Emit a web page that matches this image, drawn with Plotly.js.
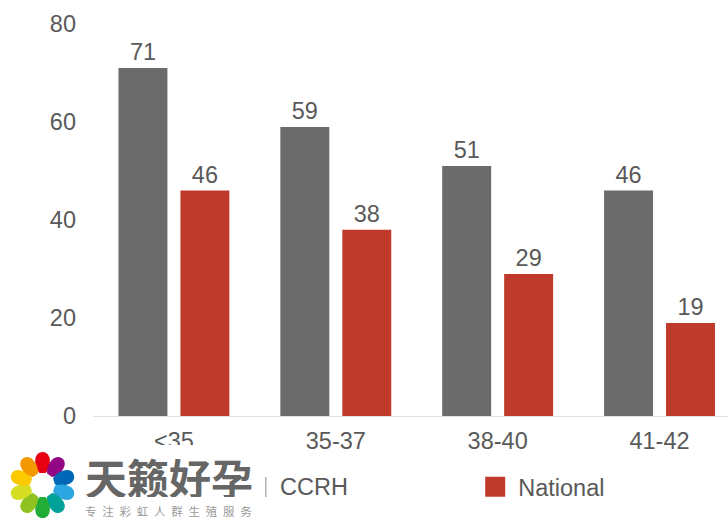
<!DOCTYPE html>
<html>
<head>
<meta charset="utf-8">
<script src="https://cdn.plot.ly/plotly-3.0.1.min.js"></script>
<style>html,body{margin:0;padding:0;background:#fff;overflow:hidden}#c{width:728px;height:530px}</style>
</head>
<body>
<div id="c"></div>
<script>
var categories = ['<35', '35-37', '38-40', '41-42'];
var ccrhValues = [71, 59, 51, 46];
var nationalValues = [46, 38, 29, 19];
var seriesNames = ['CCRH', 'National'];
var yTicks = [0, 20, 40, 60, 80];
var logoTitle = '天籁好孕';
var logoSubtitle = '专\u2002注\u2002彩\u2002虹\u2002人\u2002群\u2002生\u2002殖\u2002服\u2002务';
var petalColors = ['#e60012','#920783','#0068b7','#2ca6e0','#00a29a','#22ac38','#8fc31f','#d6de23','#fcc800','#f39800'];

var W = 728, H = 530, ml = 92.5, mt = 24, mb = 114;
var pw = W - ml, ph = H - mt - mb;
function px(x){ return (x - ml) / pw; }
function py(y){ return 1 - (y - mt) / ph; }
var TXT = '#595959', FF = '"Liberation Sans", Arial, sans-serif', FS = 23.5;

var petals = petalColors.map(function(c, i){
  return '<path transform="translate(42 485) rotate(' + (i * 36) + ')" fill="' + c +
    '" d="M-3,-12 C-9,-18 -9.5,-33 0,-33 C9.5,-33 9,-18 3,-12 Z"/>';
}).join('');
var logoSvg = '<svg xmlns="http://www.w3.org/2000/svg" width="262" height="85" viewBox="0 445 262 85">' +
  '<rect x="0" y="445" width="262" height="85" fill="#fff"/>' + petals + '</svg>';
var logoUri = 'data:image/svg+xml;base64,' + btoa(logoSvg);

var traces = [
  {type:'bar', name:seriesNames[0], x:categories, y:ccrhValues, text:ccrhValues.map(String),
   textposition:'outside', cliponaxis:false, showlegend:false,
   textfont:{family:FF,size:FS,color:TXT}, marker:{color:'#6b6b6b'}},
  {type:'bar', name:seriesNames[1], x:categories, y:nationalValues, text:nationalValues.map(String),
   textposition:'outside', cliponaxis:false,
   textfont:{family:FF,size:FS,color:TXT}, marker:{color:'#bf3a2b'}}
];
var layout = {
  width:W, height:H, paper_bgcolor:'#fff', plot_bgcolor:'#fff',
  margin:{l:ml, r:0, t:mt, b:mb, pad:0},
  barmode:'group', bargap:0.2346, bargroupgap:0.2097,
  font:{family:FF, size:FS, color:TXT},
  xaxis:{type:'category', categoryorder:'array', categoryarray:categories, range:[-0.5, 3.423],
    showgrid:false, zeroline:false, showline:true, linecolor:'#e2e2e2', linewidth:1,
    ticks:'', ticklabelstandoff:4, tickfont:{family:FF,size:FS,color:TXT}},
  yaxis:{range:[0,80], tickvals:yTicks, ticktext:yTicks.map(String), showgrid:false, zeroline:false,
    showline:false, ticks:'', ticklabelstandoff:16, tickfont:{family:FF,size:FS,color:TXT}},
  showlegend:true,
  legend:{orientation:'h', xref:'paper', yref:'paper', x:px(478), xanchor:'left', y:py(487), yanchor:'middle',
    bgcolor:'rgba(0,0,0,0)', font:{family:FF,size:FS,color:TXT}},
  images:[{source:logoUri, xref:'paper', yref:'paper', x:px(0), y:py(445), sizex:262/pw, sizey:85/ph,
    xanchor:'left', yanchor:'top', sizing:'stretch', layer:'above'}],
  shapes:[{type:'line', xref:'paper', yref:'paper', x0:px(265.5), x1:px(265.5), y0:py(477), y1:py(497),
    line:{color:'#8a8a8a', width:1}, layer:'above'}],
  annotations:[
    {text:'<b>' + logoTitle + '</b>', xref:'paper', yref:'paper', x:px(169), y:py(476), showarrow:false, xanchor:'center', yanchor:'middle',
     height:42, font:{family:'"Noto Sans CJK SC"', size:42, color:'#666666'}},
    {text:logoSubtitle, xref:'paper', yref:'paper', x:px(168.5), y:py(511), showarrow:false, xanchor:'center', yanchor:'middle',
     font:{family:'"Noto Sans CJK SC"', size:11.5, color:'#9a9a9a'}},
    {text:seriesNames[0], xref:'paper', yref:'paper', x:px(280), y:py(487), showarrow:false, xanchor:'left', yanchor:'middle',
     xshift:-2, font:{family:FF, size:FS, color:TXT}}
  ]
};
Plotly.newPlot('c', traces, layout, {displayModeBar:false, staticPlot:true}).then(function(gd){
  var sw = gd.querySelector('.legend .legendpoints path');
  if (sw) sw.setAttribute('d', 'M7,10H-13V-10H7Z');
});
</script>
</body>
</html>
